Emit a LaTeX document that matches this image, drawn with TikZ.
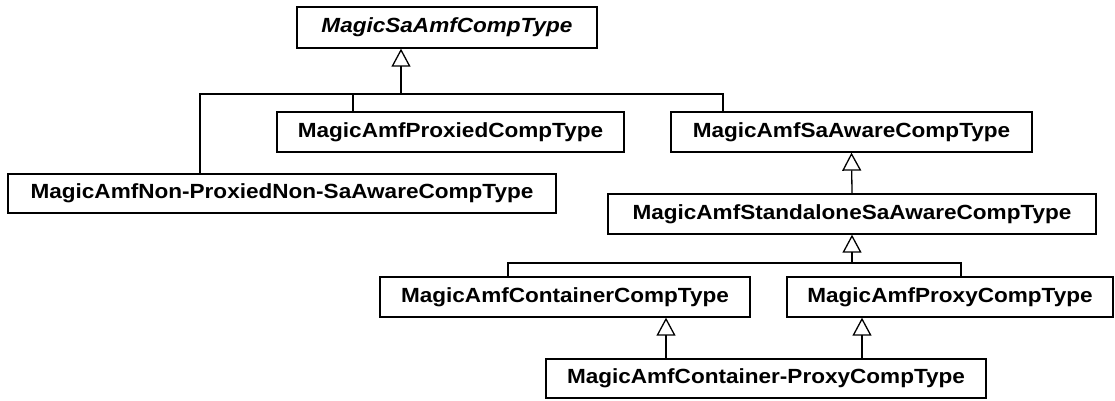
\documentclass[tikz,border=0pt]{standalone}
\usepackage{fontspec}
\setmainfont{Liberation Sans}
\usetikzlibrary{arrows.meta}
\newcommand{\cls}[1]{\scalebox{1.1}[1]{\bfseries #1}}
\tikzset{
  classbox/.style={draw, line width=1.3pt, fill=white, inner sep=0pt,
    minimum height=40pt, font=\fontsize{20.5}{24}\selectfont},
  link/.style={line width=1.3pt},
  gen/.style={line width=1.3pt, -{Triangle[open, length=18pt, width=19pt]}}
}
\begin{document}
\begin{tikzpicture}[x=1pt, y=-1pt]
\useasboundingbox (0,0) rectangle (1115,400);

% classes
\node[classbox, minimum width=300pt, minimum height=41pt] (top)   at (447,27.5) {\scalebox{1.1}[1]{\bfseries\itshape MagicSaAmfCompType}};
\node[classbox, minimum width=347pt] (prox)  at (450.5,132) {\cls{MagicAmfProxiedCompType}};
\node[classbox, minimum width=361pt] (saaw)  at (851.5,132) {\cls{MagicAmfSaAwareCompType}};
\node[classbox, minimum width=548pt, minimum height=39pt] (nonp) at (282,193.5) {\cls{MagicAmfNon-ProxiedNon-SaAwareCompType}};
\node[classbox, minimum width=488pt] (stand) at (852,214) {\cls{MagicAmfStandaloneSaAwareCompType}};
\node[classbox, minimum width=370pt] (cont)  at (565,297) {\cls{MagicAmfContainerCompType}};
\node[classbox, minimum width=326pt] (proxy) at (950,297) {\cls{MagicAmfProxyCompType}};
\node[classbox, minimum width=440pt, minimum height=39pt] (cp) at (766,378.5) {\cls{MagicAmfContainer-ProxyCompType}};

% junctions of the first generalisation tree
\coordinate (ja) at (200,94);
\coordinate (jb) at (353,94);
\coordinate (jc) at (401,94);
\coordinate (jd) at (723,94);

\draw[gen] (jc) -- (jc |- top.south);
\draw[link] (ja |- nonp.north) -- (ja) -- (jd) -- (jd |- saaw.north);
\draw[link] (jb) -- (jb |- prox.north);

% SaAware -> Standalone
\draw[gen] (stand.north) -- (saaw.south);

% junctions of the second generalisation tree
\coordinate (ka) at (508,263);
\coordinate (kb) at (852,263);
\coordinate (kc) at (961,263);

\draw[gen] (kb) -- (stand.south);
\draw[link] (ka |- cont.north) -- (ka) -- (kc) -- (kc |- proxy.north);

% Container-Proxy inherits from both
\coordinate (la) at (666,360);
\coordinate (lb) at (862,360);
\draw[gen] (la |- cp.north) -- (la |- cont.south);
\draw[gen] (lb |- cp.north) -- (lb |- proxy.south);
\end{tikzpicture}
\end{document}
